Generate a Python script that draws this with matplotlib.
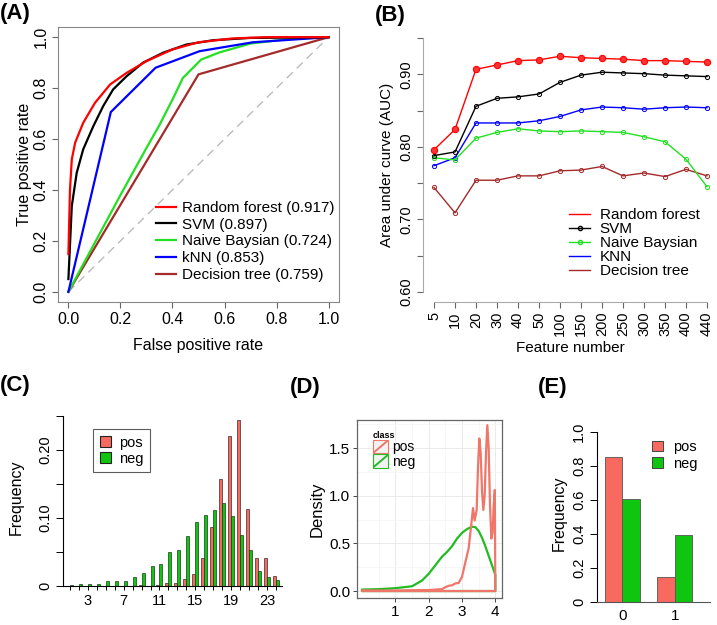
import matplotlib
matplotlib.use("Agg")
import matplotlib.pyplot as plt
from matplotlib.lines import Line2D
from matplotlib.patches import Rectangle, Patch
from matplotlib.legend_handler import HandlerBase

plt.rcParams['font.family'] = ['Liberation Sans', 'DejaVu Sans']

# ---------------- data ----------------
# (A) ROC curves
roc_labels = ["Random forest (0.917)", "SVM (0.897)", "Naive Baysian (0.724)",
              "kNN (0.853)", "Decision tree (0.759)"]
roc_colors = ["#FF0000", "#000000", "#22E022", "#0000FF", "#A52A2A"]
rf_fpr = [0, 0.006, 0.013, 0.026, 0.057, 0.102, 0.16, 0.224, 0.30, 0.40, 0.50, 0.63, 0.76, 1.0]
rf_tpr = [0.148, 0.40, 0.52, 0.586, 0.664, 0.742, 0.814, 0.86, 0.906, 0.952, 0.98, 0.995, 1.0, 1.0]
svm_fpr = [0, 0.013, 0.032, 0.057, 0.096, 0.134, 0.172, 0.224, 0.287, 0.364, 0.453, 0.556, 0.696, 1.0]
svm_tpr = [0.05, 0.337, 0.468, 0.56, 0.651, 0.73, 0.795, 0.847, 0.90, 0.939, 0.971, 0.988, 0.997, 1.0]
nb_fpr = [0, 0.1, 0.2, 0.3, 0.35, 0.4, 0.44, 0.51, 0.58, 0.70, 0.85, 1.0]
nb_tpr = [0, 0.19, 0.38, 0.565, 0.655, 0.755, 0.84, 0.912, 0.94, 0.975, 0.993, 1.0]
knn_fpr = [0, 0.163, 0.335, 0.504, 0.709, 1.0]
knn_tpr = [0, 0.706, 0.88, 0.945, 0.98, 1.0]
dt_fpr = [0, 0.5, 1.0]
dt_tpr = [0, 0.854, 1.0]

# (B) AUC vs feature number
feature_numbers = ["5", "10", "20", "30", "40", "50", "100", "150", "200", "250",
                   "300", "350", "400", "440"]
auc_rf = [0.796, 0.824, 0.907, 0.913, 0.919, 0.920, 0.925, 0.923, 0.922, 0.921, 0.919, 0.919, 0.918, 0.917]
auc_svm = [0.788, 0.793, 0.856, 0.867, 0.869, 0.873, 0.889, 0.899, 0.903, 0.902, 0.901, 0.899, 0.898, 0.897]
auc_nb = [0.785, 0.782, 0.812, 0.820, 0.825, 0.822, 0.821, 0.822, 0.821, 0.820, 0.814, 0.807, 0.783, 0.745]
auc_knn = [0.774, 0.785, 0.833, 0.833, 0.833, 0.836, 0.842, 0.851, 0.855, 0.854, 0.852, 0.854, 0.855, 0.854]
auc_dt = [0.744, 0.709, 0.754, 0.754, 0.760, 0.760, 0.767, 0.768, 0.773, 0.760, 0.764, 0.759, 0.769, 0.760]
b_labels = ["Random forest", "SVM", "Naive Baysian", "KNN", "Decision tree"]

# (C) histogram of frequencies
c_cats = list(range(1, 25))
c_pos = [0, 0, 0, 0, 0, 0, 0, 0, 0.0005, 0, 0.001, 0.0034, 0.004, 0.0097, 0.0165, 0.040,
         0.0865, 0.157, 0.220, 0.244, 0.113, 0.040, 0.040, 0.014]
c_neg = [0.001, 0.0024, 0.0024, 0.0024, 0.006, 0.007, 0.007, 0.013, 0.019, 0.029, 0.032, 0.050,
         0.053, 0.073, 0.094, 0.104, 0.111, 0.121, 0.102, 0.0745, 0.052, 0.022, 0.013, 0.0077]
c_ticklabels = ["3", "7", "11", "15", "19", "23"]

# (D) density curves
d_pos_x = [0, 0.5, 1.0, 1.5, 2.0, 2.2, 2.4, 2.5, 2.6, 2.7, 2.8, 2.9, 3.0, 3.1, 3.2, 3.28, 3.33,
           3.38, 3.44, 3.48, 3.52, 3.56, 3.6, 3.64, 3.68, 3.72, 3.76, 3.8, 3.84, 3.88, 3.92,
           3.95, 3.985, 4.0]
d_pos_y = [0.005, 0.005, 0.005, 0.008, 0.01, 0.015, 0.02, 0.04, 0.055, 0.06, 0.08, 0.085, 0.15,
           0.30, 0.45, 0.70, 0.87, 0.74, 0.85, 1.30, 1.60, 1.45, 1.05, 0.85, 1.0, 1.45, 1.74,
           1.50, 0.90, 0.55, 0.62, 0.90, 1.06, 0.0]
d_neg_x = [0, 0.5, 1.0, 1.5, 1.8, 2.0, 2.2, 2.4, 2.55, 2.7, 2.85, 3.0, 3.15, 3.3, 3.4, 3.5, 3.6,
           3.7, 3.8, 3.9, 4.0]
d_neg_y = [0.015, 0.02, 0.03, 0.05, 0.11, 0.18, 0.27, 0.36, 0.41, 0.47, 0.55, 0.61, 0.65, 0.675,
           0.67, 0.63, 0.56, 0.47, 0.37, 0.27, 0.17]

# (E) binary feature frequencies
e_cats = ["0", "1"]
e_pos = [0.851, 0.149]
e_neg = [0.605, 0.395]

POS_COL = "#F8695F"
NEG_COL = "#10C510"

# ---------------- figure ----------------
W, H = 717, 625
fig = plt.figure(figsize=(W / 100, H / 100), dpi=100)


def add_ax(l, t, w, h):
    return fig.add_axes([l / W, 1 - (t + h) / H, w / W, h / H])


def fpx(x, y):
    return (x / W, 1 - y / H)


# ---------- (A) ----------
axA = add_ax(58, 27, 281, 275)
axA.set_xlim(-0.04, 1.04)
axA.set_ylim(-0.04, 1.04)
axA.plot([0, 1], [0, 1], color="#BBBBBB", lw=1.0, ls=(0, (6, 4)))
curves = [(dt_fpr, dt_tpr, 4), (nb_fpr, nb_tpr, 2), (knn_fpr, knn_tpr, 3),
          (svm_fpr, svm_tpr, 1), (rf_fpr, rf_tpr, 0)]
for xs, ys, i in curves:
    axA.plot(xs, ys, color=roc_colors[i], lw=1.6)
for s in axA.spines.values():
    s.set_color("#888888")
    s.set_linewidth(0.8)
ticks = [0, 0.2, 0.4, 0.6, 0.8, 1.0]
axA.set_xticks(ticks)
axA.set_xticklabels([f"{t:.1f}" for t in ticks], fontsize=11.5)
axA.set_yticks(ticks)
axA.set_yticklabels([f"{t:.1f}" for t in ticks], fontsize=11.5, rotation=90, va="center")
axA.tick_params(length=4, width=0.8, color="#666666", pad=3)
axA.set_xlabel("False positive rate", fontsize=11.5, labelpad=8)
axA.set_ylabel("True positive rate", fontsize=11.5, labelpad=1)
hA = [Line2D([], [], color=c, lw=1.6) for c in roc_colors]
axA.legend(hA, roc_labels, loc="upper left", bbox_to_anchor=fpx(156, 201),
           bbox_transform=fig.transFigure, frameon=False, fontsize=11,
           handlelength=1.3, handletextpad=0.4, labelspacing=0.18, borderpad=0,
           borderaxespad=0)

# ---------- (B) ----------
axB = add_ax(423, 28, 294, 274)
xs = list(range(1, len(feature_numbers) + 1))
axB.set_xlim(0.476, 14.476)
axB.set_ylim(0.586, 0.964)
axB.plot(xs, auc_dt, color="#A52A2A", lw=1, marker="o", ms=3, mfc="none", mew=0.7)
axB.plot(xs, auc_knn, color="#0000FF", lw=1, marker="o", ms=3, mfc="none", mew=0.7)
axB.plot(xs, auc_nb, color="#22E022", lw=1, marker="o", ms=3, mfc="none", mew=0.7)
axB.plot(xs, auc_svm, color="#000000", lw=1, marker="o", ms=3, mfc="none", mew=0.7)
axB.plot(xs, auc_rf, color="#FF0000", lw=1, marker="o", ms=4.5, mfc="#FF3333", mew=0.8)
for k in ["top", "right"]:
    axB.spines[k].set_visible(False)
for k in ["left", "bottom"]:
    axB.spines[k].set_color("#AAAAAA")
    axB.spines[k].set_linewidth(0.8)
axB.spines["left"].set_bounds(0.6, 0.95)
axB.spines["bottom"].set_bounds(1, 14)
axB.set_xticks(xs)
axB.set_xticklabels(feature_numbers, rotation=90, fontsize=10.5)
yt = [0.60, 0.65, 0.70, 0.75, 0.80, 0.85, 0.90, 0.95]
axB.set_yticks(yt)
axB.set_yticklabels(["0.60", "", "0.70", "", "0.80", "", "0.90", ""], rotation=90,
                    va="center", fontsize=10.5)
axB.tick_params(length=4, width=0.8, color="#666666", pad=3)
axB.set_xlabel("Feature number", fontsize=11, labelpad=3)
axB.set_ylabel("Area under curve (AUC)", fontsize=11, labelpad=4)
hB = [Line2D([], [], color="#FF0000", lw=1),
      Line2D([], [], color="#000000", lw=1, marker="o", ms=3, mfc="none", markevery=[0, 1]),
      Line2D([], [], color="#22E022", lw=1, marker="o", ms=3, mfc="none", markevery=[0, 1]),
      Line2D([], [], color="#0000FF", lw=1),
      Line2D([], [], color="#A52A2A", lw=1)]
axB.legend(hB, b_labels, loc="upper left", bbox_to_anchor=fpx(569, 208),
           bbox_transform=fig.transFigure, frameon=False, fontsize=11,
           handlelength=1.4, handletextpad=0.6, labelspacing=0.0, borderpad=0,
           borderaxespad=0)

# ---------- (C) ----------
axC = add_ax(63, 409, 219, 176.5)
bw = 0.335
axC.bar([k - bw / 2 for k in c_cats], c_pos, width=bw, color=POS_COL, edgecolor="#3A2A2A", lw=0.5)
axC.bar([k + bw / 2 for k in c_cats], c_neg, width=bw, color=NEG_COL, edgecolor="#1A3A1A", lw=0.5)
axC.set_xlim(0.218, 24.69)
axC.set_ylim(0, 0.26)
for k in ["top", "right"]:
    axC.spines[k].set_visible(False)
axC.spines["left"].set_bounds(0, 0.25)
axC.set_xticks(c_cats)
axC.set_xticklabels([str(k) if str(k) in c_ticklabels else "" for k in c_cats], fontsize=10.5)
axC.set_yticks([0, 0.05, 0.10, 0.15, 0.20, 0.25])
axC.set_yticklabels(["0", "", "0.10", "", "0.20", ""], rotation=90, va="center", fontsize=10.5)
axC.tick_params(length=5, width=0.7, pad=3)
axC.tick_params(axis="x", length=3)
axC.set_ylabel("Frequency", fontsize=11.5, labelpad=10)
hC = [Patch(facecolor=POS_COL, edgecolor="#222222", lw=0.8),
      Patch(facecolor=NEG_COL, edgecolor="#222222", lw=0.8)]
lgC = axC.legend(hC, ["pos", "neg"], loc="upper left", bbox_to_anchor=fpx(93, 429),
                 bbox_transform=fig.transFigure, frameon=True, fancybox=False, fontsize=10.5,
                 handlelength=0.75, handleheight=0.75, handletextpad=0.6, labelspacing=0.15,
                 borderpad=0.45, borderaxespad=0)
lgC.get_frame().set_edgecolor("#333333")
lgC.get_frame().set_linewidth(0.8)

# ---------- (D) ----------
axD = add_ax(357, 420, 145, 178)
axD.set_xlim(-0.15, 4.2)
axD.set_ylim(-0.073, 1.794)
axD.set_xticks([1, 2, 3, 4])
axD.set_xticks([0.5, 1.5, 2.5, 3.5], minor=True)
axD.set_yticks([0, 0.5, 1.0, 1.5])
axD.set_yticks([0.25, 0.75, 1.25, 1.75], minor=True)
axD.grid(which="major", color="#EBEBEB", lw=0.7)
axD.grid(which="minor", color="#F4F4F4", lw=0.5)
axD.set_axisbelow(True)
axD.fill_between(d_neg_x, d_neg_y, 0, facecolor="none", edgecolor="#22BB22", lw=1.6)
axD.fill_between(d_pos_x, d_pos_y, 0, facecolor="none", edgecolor="#F0766A", lw=1.6)
for s in axD.spines.values():
    s.set_color("#666666")
    s.set_linewidth(0.9)
axD.set_xticklabels(["1", "2", "3", "4"], fontsize=11)
axD.set_yticklabels(["0.0", "0.5", "1.0", "1.5"], fontsize=11)
axD.tick_params(which="major", length=3, width=0.7, color="#444444", pad=2)
axD.tick_params(which="minor", length=0)
axD.set_ylabel("Density", fontsize=12, labelpad=3)


class DiagKey(HandlerBase):
    def create_artists(self, legend, orig_handle, xdescent, ydescent, width, height,
                       fontsize, trans):
        c = orig_handle.get_color()
        r = Rectangle((-xdescent, -ydescent), width, height, facecolor="#F2F2F2",
                      edgecolor=c, lw=0.8, transform=trans)
        ln = Line2D([-xdescent + 1, -xdescent + width - 1], [-ydescent + 1, -ydescent + height - 1],
                    color=c, lw=1.4, transform=trans)
        return [r, ln]


hD = [Line2D([], [], color="#F0766A"), Line2D([], [], color="#22BB22")]
lgD = axD.legend(hD, ["pos", "neg"], handler_map={Line2D: DiagKey()}, loc="upper left",
                 bbox_to_anchor=fpx(373, 431), bbox_transform=fig.transFigure, frameon=False,
                 fontsize=10, title="class", title_fontproperties={"weight": "bold", "size": 6.5},
                 handlelength=1.1, handleheight=1.1, handletextpad=0.25, labelspacing=0.0,
                 borderpad=0, borderaxespad=0, alignment="left")

# ---------- (E) ----------
axE = add_ax(597, 425, 113, 177)
axE.set_xlim(0.543, 7.0)
axE.set_ylim(0, 1.04)
gx = [2, 5]
axE.bar([g - 0.5 for g in gx], e_pos, width=1, color=POS_COL, edgecolor="#555555", lw=0.6)
axE.bar([g + 0.5 for g in gx], e_neg, width=1, color=NEG_COL, edgecolor="#555555", lw=0.6)
for k in ["top", "right"]:
    axE.spines[k].set_visible(False)
axE.spines["left"].set_bounds(0, 1.0)
axE.spines["bottom"].set_color("#555555")
axE.set_xticks(gx)
axE.set_xticklabels(e_cats, fontsize=11)
axE.tick_params(axis="x", length=0, pad=5)
ye = [0, 0.2, 0.4, 0.6, 0.8, 1.0]
axE.set_yticks(ye)
axE.set_yticklabels(["0", "0.2", "0.4", "0.6", "0.8", "1.0"], rotation=90, va="center",
                    fontsize=10.5)
axE.tick_params(axis="y", length=5, width=0.7, pad=3)
axE.set_ylabel("Frequency", fontsize=11.5, labelpad=4)
hE = [Patch(facecolor=POS_COL, edgecolor="#444444", lw=0.7),
      Patch(facecolor=NEG_COL, edgecolor="#444444", lw=0.7)]
axE.legend(hE, ["pos", "neg"], loc="upper left", bbox_to_anchor=fpx(652, 440),
           bbox_transform=fig.transFigure, frameon=False, fontsize=10.5,
           handlelength=0.75, handleheight=0.75, handletextpad=0.7, labelspacing=0.2,
           borderpad=0, borderaxespad=0)

# ---------- panel labels ----------
for lab, x, y in [("(A)", 0, 14), ("(B)", 375, 15), ("(C)", 0, 385), ("(D)", 290, 387),
                  ("(E)", 538, 387)]:
    fig.text(x / W, 1 - y / H, lab, fontsize=16, fontweight="bold", ha="left", va="center")

fig.savefig("out.png", dpi=100)
